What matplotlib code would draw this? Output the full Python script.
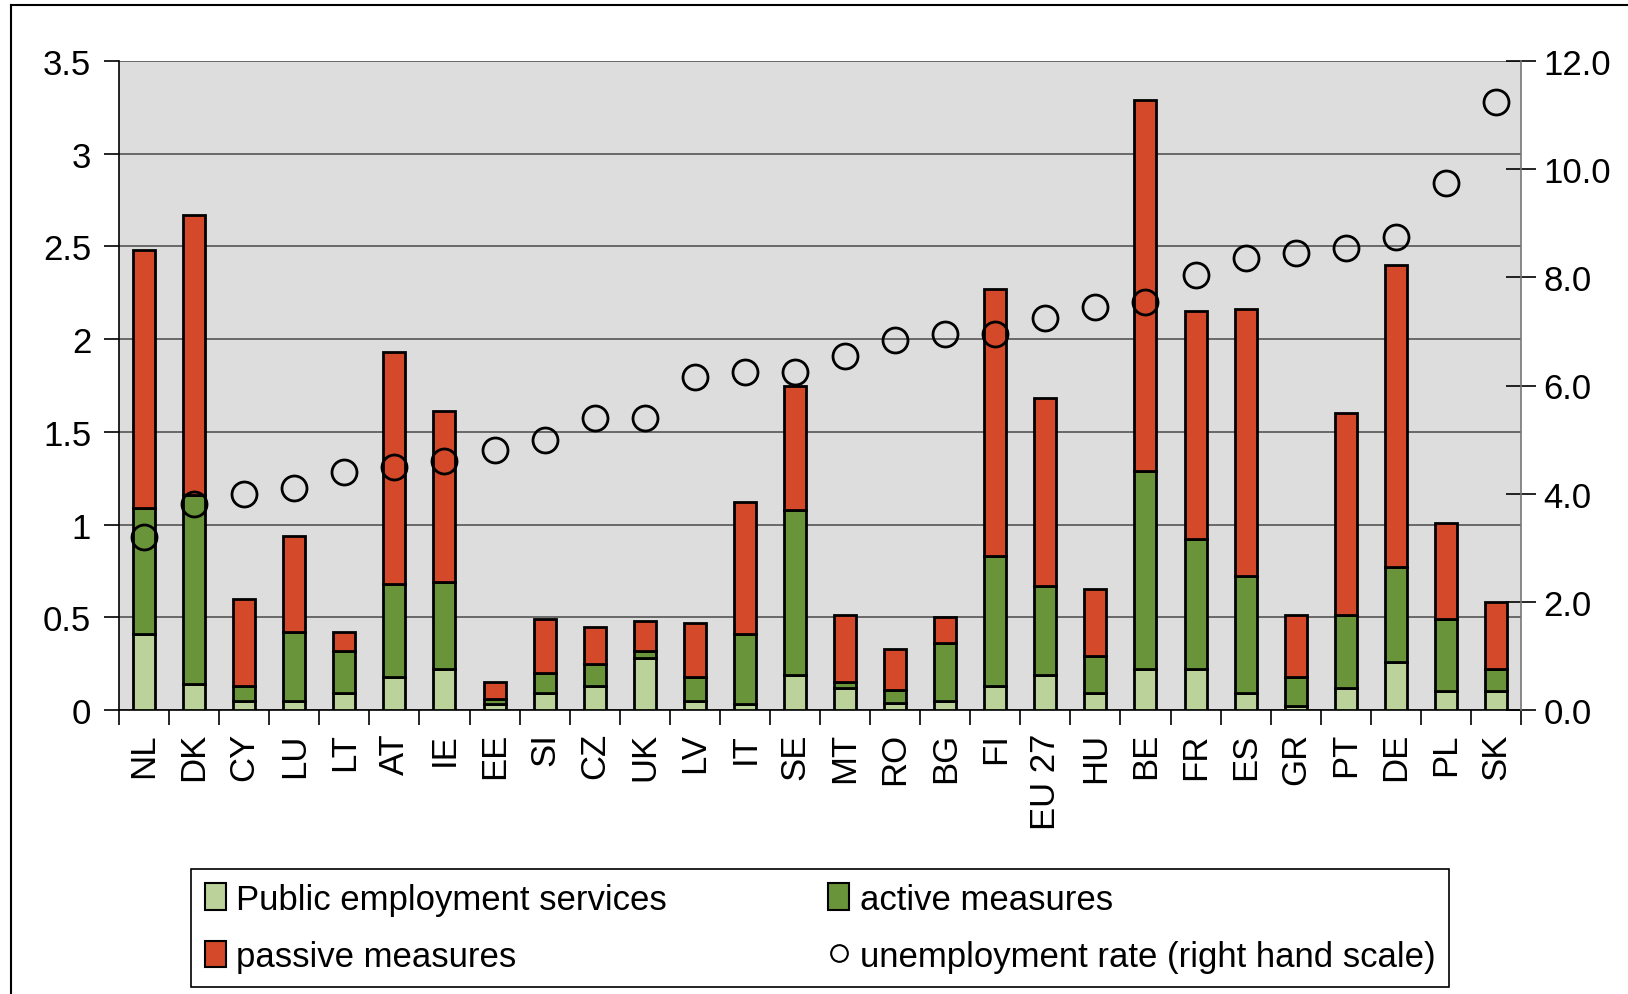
import numpy as np
import matplotlib.pyplot as plt
from matplotlib.lines import Line2D
from matplotlib.patches import Patch

plt.rcParams['font.family'] = ['Liberation Sans', 'DejaVu Sans']

countries = ["NL", "DK", "CY", "LU", "LT", "AT", "IE", "EE", "SI", "CZ", "UK", "LV", "IT", "SE",
             "MT", "RO", "BG", "FI", "EU 27", "HU", "BE", "FR", "ES", "GR", "PT", "DE", "PL", "SK"]

# % of GDP
pes = [0.41, 0.14, 0.05, 0.05, 0.09, 0.18, 0.22, 0.03, 0.09, 0.13, 0.28, 0.05, 0.03, 0.19,
       0.12, 0.04, 0.05, 0.13, 0.19, 0.09, 0.22, 0.22, 0.09, 0.02, 0.12, 0.26, 0.10, 0.10]
active = [0.68, 1.02, 0.08, 0.37, 0.23, 0.50, 0.47, 0.03, 0.11, 0.12, 0.04, 0.13, 0.38, 0.89,
          0.03, 0.07, 0.31, 0.70, 0.48, 0.20, 1.07, 0.70, 0.63, 0.16, 0.39, 0.51, 0.39, 0.12]
passive = [1.39, 1.51, 0.47, 0.52, 0.10, 1.25, 0.92, 0.09, 0.29, 0.20, 0.16, 0.29, 0.71, 0.67,
           0.36, 0.22, 0.14, 1.44, 1.01, 0.36, 2.00, 1.23, 1.44, 0.33, 1.09, 1.63, 0.52, 0.36]
# unemployment rate, %
unemp = [3.2, 3.8, 4.0, 4.1, 4.4, 4.5, 4.6, 4.8, 5.0, 5.4, 5.4, 6.15, 6.25, 6.25,
         6.55, 6.85, 6.95, 6.95, 7.25, 7.45, 7.55, 8.05, 8.35, 8.45, 8.55, 8.75, 9.75, 11.25]

c_pes = "#BBD39A"
c_act = "#6A943A"
c_pas = "#D34929"
fs = 25

fig = plt.figure(figsize=(16.28, 9.95), dpi=100)
ax = fig.add_axes([119/1628, 1 - 711/995, (1521-119)/1628, (711-62)/995])
ax.set_facecolor("#DDDDDD")

x = np.arange(len(countries))
pes = np.array(pes); active = np.array(active); passive = np.array(passive)
w = 0.44
ax.bar(x, pes, w, color=c_pes, edgecolor="black", linewidth=2, zorder=3)
ax.bar(x, active, w, bottom=pes, color=c_act, edgecolor="black", linewidth=2, zorder=3)
ax.bar(x, passive, w, bottom=pes + active, color=c_pas, edgecolor="black", linewidth=2, zorder=3)

ax.set_xlim(-0.5, len(countries) - 0.5)
ax.set_ylim(0, 3.5)
yt = [0, 0.5, 1, 1.5, 2, 2.5, 3, 3.5]
ax.set_yticks(yt)
ax.set_yticklabels(["0", "0.5", "1", "1.5", "2", "2.5", "3", "3.5"], fontsize=fs)
ax.yaxis.grid(True, color="#555555", linewidth=1.2, zorder=1)
ax.set_axisbelow(True)
ax.tick_params(axis="y", length=11, width=1.2, pad=9)

ax.set_xticks(x)
ax.set_xticklabels(countries, rotation=90, fontsize=fs)
ax.set_xticks(np.arange(len(countries) + 1) - 0.5, minor=True)
ax.tick_params(axis="x", which="major", length=0, pad=16)
ax.tick_params(axis="x", which="minor", length=11, width=1.2)

ax.spines["top"].set_visible(False)
ax.spines["right"].set_visible(False)
ax.spines["left"].set_linewidth(1.2)
ax.spines["bottom"].set_linewidth(1.2)

ax2 = ax.twinx()
ax2.plot(x, unemp, "o", ms=18, mfc="none", mec="black", mew=2, zorder=5)
ax2.set_ylim(0, 12)
ax2.set_yticks(np.arange(0, 13, 2))
ax2.set_yticklabels(["%.1f" % v for v in np.arange(0, 13, 2)], fontsize=fs)
ax2.tick_params(axis="y", direction="inout", length=22, width=1.2, pad=5)
ax2.spines["top"].set_visible(False)
ax2.spines["left"].set_visible(False)
ax2.spines["bottom"].set_visible(False)
ax2.spines["right"].set_color("#777777")
ax2.spines["right"].set_linewidth(1.2)

handles = [Patch(facecolor=c_pes, edgecolor="black", linewidth=1.5),
           Patch(facecolor=c_pas, edgecolor="black", linewidth=1.5),
           Patch(facecolor=c_act, edgecolor="black", linewidth=1.5),
           Line2D([], [], marker="o", ls="none", mfc="none", mec="black", mew=1.5, ms=12)]
labels = ["Public employment services", "passive measures", "active measures",
          "unemployment rate (right hand scale)"]
leg = fig.legend(handles, labels, ncol=2, loc="lower left", bbox_to_anchor=(191/1628, 1 - 988/995),
                 fontsize=fs, frameon=True, fancybox=False, edgecolor="black", framealpha=1,
                 handlelength=0.6, handleheight=0.8, handletextpad=0.3, columnspacing=4.65,
                 labelspacing=0.7, borderpad=0.4, borderaxespad=0)
leg.get_frame().set_linewidth(1.2)

# outer frame of the chart
fig.add_artist(Line2D([11/1628, 11/1628], [0, 1 - 6/995], color="black", lw=1.5))
fig.add_artist(Line2D([11/1628, 1], [1 - 6/995, 1 - 6/995], color="black", lw=1.5))

plt.savefig("out.png", dpi=100)
